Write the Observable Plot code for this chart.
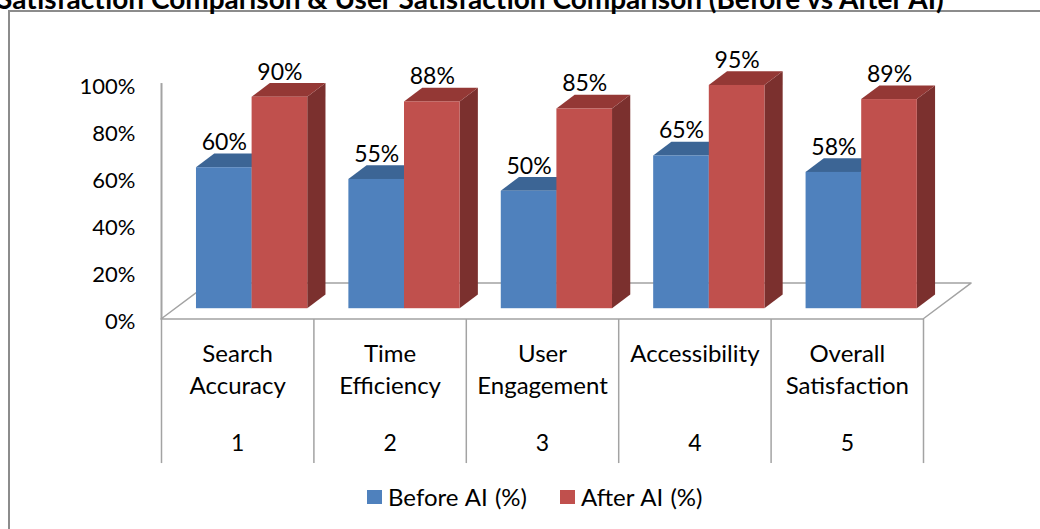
<!DOCTYPE html>
<html>
<head>
<meta charset="utf-8">
<script src="https://cdn.jsdelivr.net/npm/d3@7"></script>
<script src="https://cdn.jsdelivr.net/npm/@observablehq/plot@0.6"></script>
<style>
  html, body { margin: 0; padding: 0; background: #fff; }
  #wrap { position: relative; width: 1040px; height: 529px; overflow: hidden; font-family: Lato, "Open Sans", sans-serif; }
  #frame { position: absolute; left: 8px; top: 10px; width: 1100px; height: 600px; border: 2px solid #8c8c8c; box-sizing: border-box; }
  #title { position: absolute; left: -3px; top: -19px; font-size: 28px; font-weight: bold; white-space: nowrap; color: #000; line-height: normal; }
  #chart { position: absolute; left: 0; top: 0; }
  #legend { position: absolute; top: 482px; left: 367px; display: flex; align-items: center; font-size: 24px; word-spacing: 1px; color: #000; white-space: nowrap; }
  #legend .item { display: flex; align-items: center; margin-right: 33px; }
  #legend .sw { width: 15px; height: 14px; margin-right: 6px; }
</style>
</head>
<body>
<div id="wrap">
  <div id="frame"></div>
  <div id="title"></div>
  <div id="chart"></div>
  <div id="legend"></div>
</div>
<script>
// ---- data ----
const titleText = "Satisfaction Comparison & User Satisfaction Comparison (Before vs After AI)";
const categories = ["Search Accuracy", "Time Efficiency", "User Engagement", "Accessibility", "Overall Satisfaction"];
const categoryNumbers = ["1", "2", "3", "4", "5"];
const seriesNames = ["Before AI (%)", "After AI (%)"];
const beforeAI = [60, 55, 50, 65, 58];
const afterAI = [90, 88, 85, 95, 89];
const yTicks = [0, 20, 40, 60, 80, 100];

// ---- styling / 3D geometry (data units of the scales) ----
const frontColors = ["#4F81BD", "#C0504D"];
const topColors = ["#3C6595", "#943835"];
const sideColors = ["#385D8A", "#7B302E"];
const DX = 0.315, DY = 15.3;     // full floor depth
const F0 = 0.30, F1 = 0.68;      // bar depth fractions (front, back)
const slots = [[0.135, 0.5], [0.5, 0.865]];
const gridColor = "#a3a3a3";

const values = [beforeAI, afterAI];
const bars = [];
values.forEach((vals, s) => vals.forEach((v, i) => {
  bars.push({id: s + "-" + i, s, i, v, l: i + slots[s][0], r: i + slots[s][1]});
}));

const marks = [];
// floor
marks.push(Plot.areaX([{y: 0, x1: 0, x2: categories.length}, {y: DY, x1: DX, x2: categories.length + DX}],
  {y: "y", x1: "x1", x2: "x2", fill: "white", stroke: gridColor, strokeWidth: 1.5}));
// vertical axis line
marks.push(Plot.ruleX([0], {y1: 0, y2: 100.4, stroke: gridColor, strokeWidth: 2}));
// table dividers below
marks.push(Plot.ruleX(d3.range(categories.length + 1), {y1: 0, y2: -61.3, stroke: gridColor, strokeWidth: 1.5}));

for (let s = 0; s < 2; s++) {
  const bs = bars.filter(b => b.s === s);
  const side = bs.flatMap(b => [
    {id: b.id, x: b.r + F0 * DX, y1: F0 * DY, y2: b.v + F0 * DY},
    {id: b.id, x: b.r + F1 * DX, y1: F1 * DY, y2: b.v + F1 * DY}
  ]);
  const top = bs.flatMap(b => [
    {id: b.id, y: b.v + F0 * DY, x1: b.l + F0 * DX, x2: b.r + F0 * DX},
    {id: b.id, y: b.v + F1 * DY, x1: b.l + F1 * DX, x2: b.r + F1 * DX}
  ]);
  marks.push(Plot.areaY(side, {x: "x", y1: "y1", y2: "y2", z: "id", fill: sideColors[s]}));
  marks.push(Plot.areaX(top, {y: "y", x1: "x1", x2: "x2", z: "id", fill: topColors[s]}));
  marks.push(Plot.rect(bs, {x1: d => d.l + F0 * DX, x2: d => d.r + F0 * DX, y1: F0 * DY, y2: d => d.v + F0 * DY, fill: frontColors[s]}));
}
// value labels
marks.push(Plot.text(bars, {x: d => (d.l + d.r) / 2 + F0 * DX, y: d => d.v + F0 * DY, text: d => d.v + "%", dy: -25, fontSize: 23, fill: "#000"}));
// y axis
marks.push(Plot.axisY(yTicks, {tickSize: 0, tickPadding: 26, tickFormat: d => d + "%", fontSize: 22, dy: 2, label: null, color: "#000"}));
// category labels
const catLines = categories.map(c => { const w = c.split(" "); return [w[0], w.slice(1).join(" ")]; });
marks.push(Plot.text(categories, {x: (d, i) => i + 0.5, y: -14.9, text: (d, i) => catLines[i][0], fontSize: 24, fill: "#000"}));
marks.push(Plot.text(categories, {x: (d, i) => i + 0.5, y: -28.5, text: (d, i) => catLines[i][1], fontSize: 24, fill: "#000"}));
marks.push(Plot.text(categoryNumbers, {x: (d, i) => i + 0.5, y: -52.8, text: d => d, fontSize: 23, fill: "#000"}));

const chart = Plot.plot({
  width: 1040,
  height: 529,
  marginLeft: 161,
  marginRight: 117,
  marginTop: 84,
  marginBottom: 210,
  x: {type: "linear", domain: [0, categories.length], axis: null},
  y: {type: "linear", domain: [0, 100], axis: null},
  style: {fontFamily: "Lato, 'Open Sans', sans-serif", fontSize: "22px", background: "transparent", overflow: "visible", color: "#000"},
  marks
});
document.getElementById("chart").appendChild(chart);

document.getElementById("title").textContent = titleText;
const legend = document.getElementById("legend");
seriesNames.forEach((n, s) => {
  const it = document.createElement("div");
  it.className = "item";
  const sw = document.createElement("div");
  sw.className = "sw";
  sw.style.background = frontColors[s];
  const t = document.createElement("span");
  t.textContent = n;
  it.appendChild(sw); it.appendChild(t);
  legend.appendChild(it);
});
</script>
</body>
</html>
